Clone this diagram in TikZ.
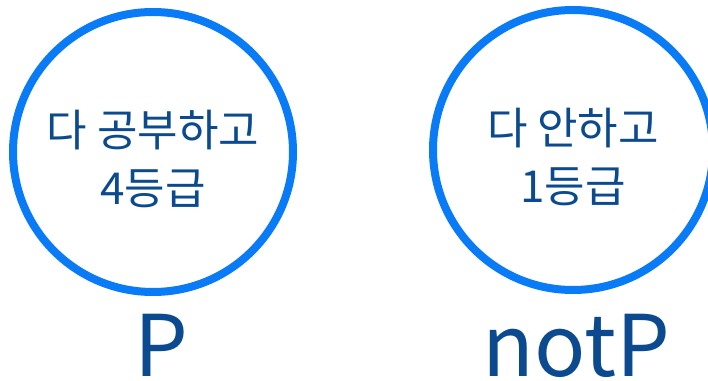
\documentclass[tikz,border=0pt]{standalone}
\usepackage{fontspec}
\setmainfont{Noto Sans CJK KR}
\newfontfamily\lightcjk{Noto Sans CJK KR}
\definecolor{ringblue}{HTML}{0A7BF6}
\definecolor{textblue}{HTML}{0B4A8E}
\begin{document}
\begin{tikzpicture}[x=1pt,y=1pt,
  ring/.style={circle,draw=ringblue,line width=8pt,minimum size=280pt,inner sep=0pt},
  inner/.style={text=textblue,font=\fontsize{44}{58}\selectfont,align=center},
  label/.style={text=textblue,font=\fontsize{85}{90}\selectfont,anchor=base,text depth=0pt}]
\useasboundingbox (0,0) rectangle (708,380);
\node[ring] (L) at (153,228) {};
\node[ring] (R) at (573,230) {};
\node[inner] (Lt) at (153,221) {다 공부하고\\4등급};
\node[inner] (Rt) at (573,223) {다 안하고\\1등급};
\node[label] (Lp) at (161,4) {P};
\node[label] (Rp) at (576,4) {notP};
\end{tikzpicture}
\end{document}
